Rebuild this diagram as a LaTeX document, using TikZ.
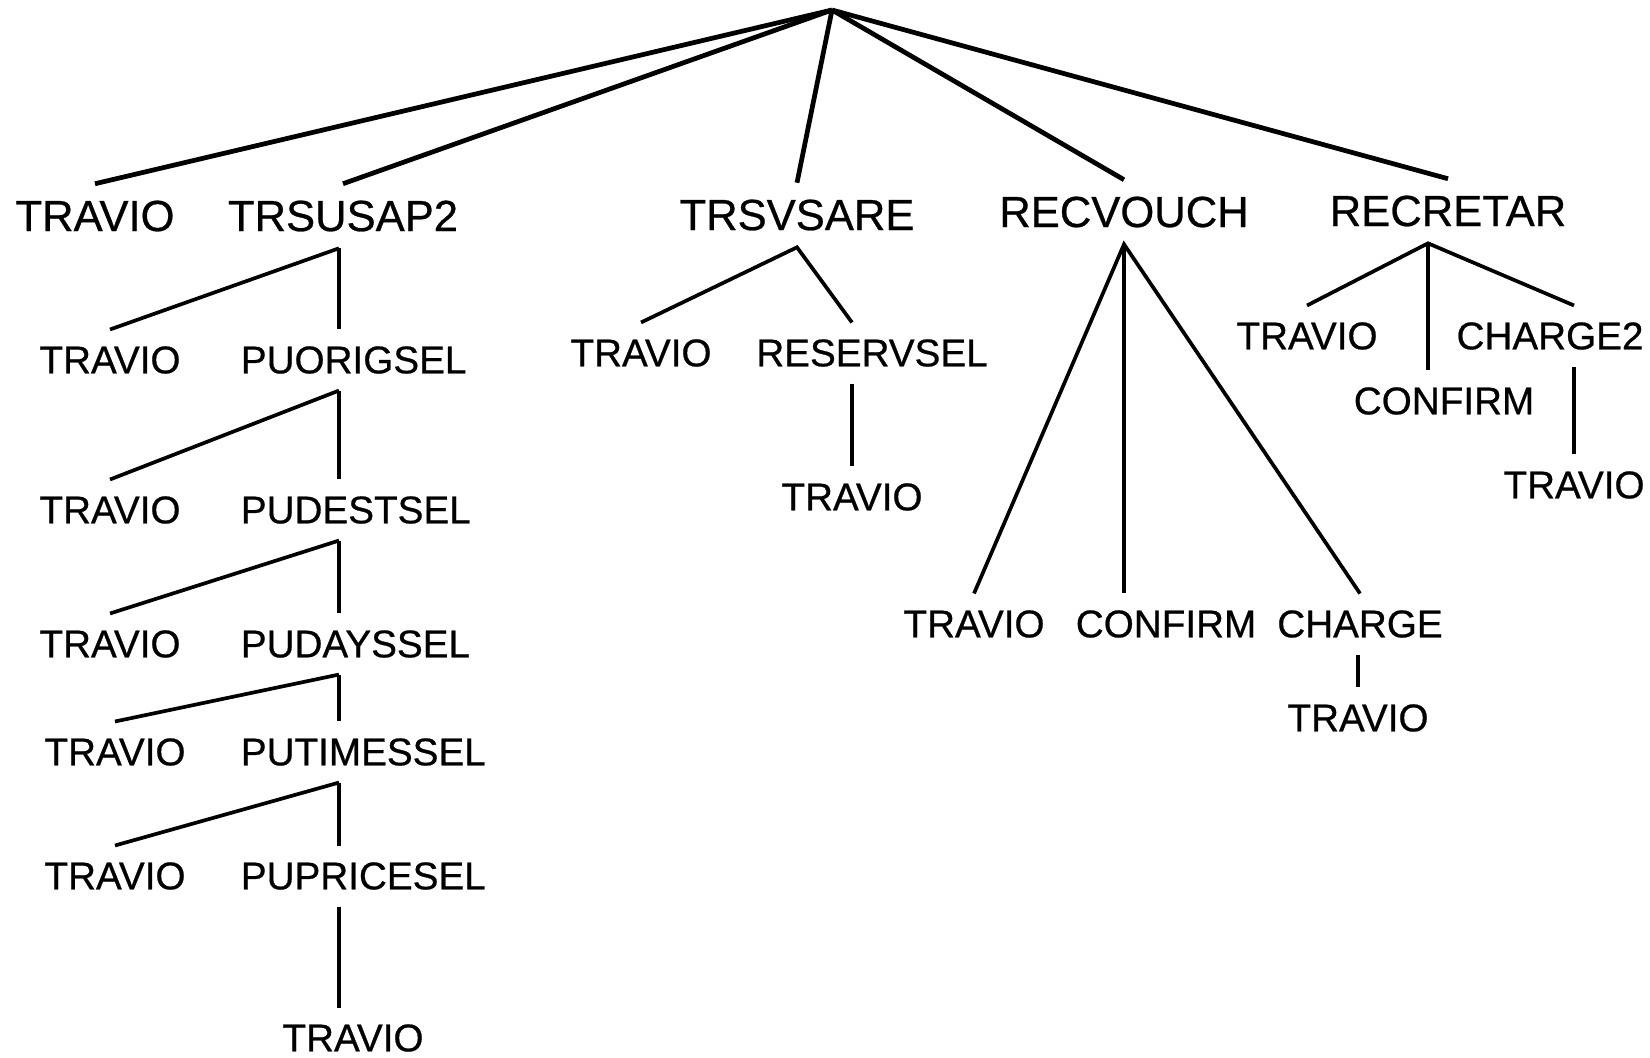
\documentclass[tikz,border=0pt]{standalone}
\usepackage{fontspec}
\setmainfont{Liberation Sans}
\newfontfamily\treefont{Liberation Sans}[FakeBold=0.6]

\begin{document}
\begin{tikzpicture}[x=0.1mm, y=-0.1mm, line width=1.05pt,
	top/.style={font=\treefont\fontsize{12.4}{14}\selectfont, inner xsep=0pt, inner ysep=1.5mm},
	sub/.style={font=\treefont\fontsize{11}{13}\selectfont, inner xsep=0pt, inner ysep=1.5mm}]
	\useasboundingbox (0,0) rectangle (1650,1057);
	\coordinate (root) at (832,10);
	\node[top] (travio) at (95,216) {TRAVIO};
	\node[top, alias=pu0] (trsusap2) at (343,216) {TRSUSAP2};
	\node[top] (trsvsare) at (797,215) {TRSVSARE};
	\node[top] (recvouch) at (1124,212) {RECVOUCH};
	\node[top] (recretar) at (1448,211) {RECRETAR};
	\foreach \n in {travio,trsusap2,trsvsare,recvouch,recretar}
		\draw[line width=1.35pt] (root) -- (\n.north);
	% the PU... chain, every step hangs off the same vertical
	\coordinate (spine) at (339,0);
	\foreach \name/\x/\y [count=\i, remember=\i as \j (initially 0)] in
		{PUORIGSEL/110/360, PUDESTSEL/110/510, PUDAYSSEL/110/644, PUTIMESSEL/115/752, PUPRICESEL/115/876} {
		\node[sub, anchor=west] (pu\i) at (239,\y) {\name};
		\node[sub] (tv\i) at (\x,\y) {TRAVIO};
		\draw (spine |- pu\j.south) -- (tv\i.north);
		\draw (spine |- pu\j.south) -- (spine |- pu\i.north);
	}
	\node[sub] (tv6) at (353,1038) {TRAVIO};
	\draw (spine |- pu5.south) -- (spine |- tv6.north);
	% TRSVSARE
	\node[sub] (tvsv) at (641,353) {TRAVIO};
	\node[sub] (reservsel) at (872,353) {RESERVSEL};
	\node[sub] (tvres) at (852,497) {TRAVIO};
	\draw (tvsv.north) -- (trsvsare.south) -- (tvres.north |- reservsel.north);
	\draw (tvres.north |- reservsel.south) -- (tvres.north);
	% RECVOUCH
	\node[sub] (tvrv) at (974,624) {TRAVIO};
	\node[sub] (confirm) at (1166,624) {CONFIRM};
	\node[sub] (charge) at (1360,624) {CHARGE};
	\node[sub] (tvch) at (1358,718) {TRAVIO};
	\draw (tvrv.north) -- (recvouch.south) -- (charge.north);
	\draw (recvouch.south) -- (recvouch.south |- confirm.north);
	\draw (tvch.north |- charge.south) -- (tvch.north);
	% RECRETAR
	\coordinate (rrf) at ([xshift=-2mm]recretar.south);
	\node[sub] (tvrr) at (1307,336) {TRAVIO};
	\node[sub] (confirm2) at (1444,401) {CONFIRM};
	\node[sub] (charge2) at (1550,336) {CHARGE2};
	\node[sub] (tvc2) at (1574,485) {TRAVIO};
	\draw (tvrr.north) -- (rrf) -- (tvc2.north |- charge2.north);
	\draw (rrf) -- (rrf |- confirm2.north);
	\draw (tvc2.north |- charge2.south) -- (tvc2.north);
\end{tikzpicture}
\end{document}
